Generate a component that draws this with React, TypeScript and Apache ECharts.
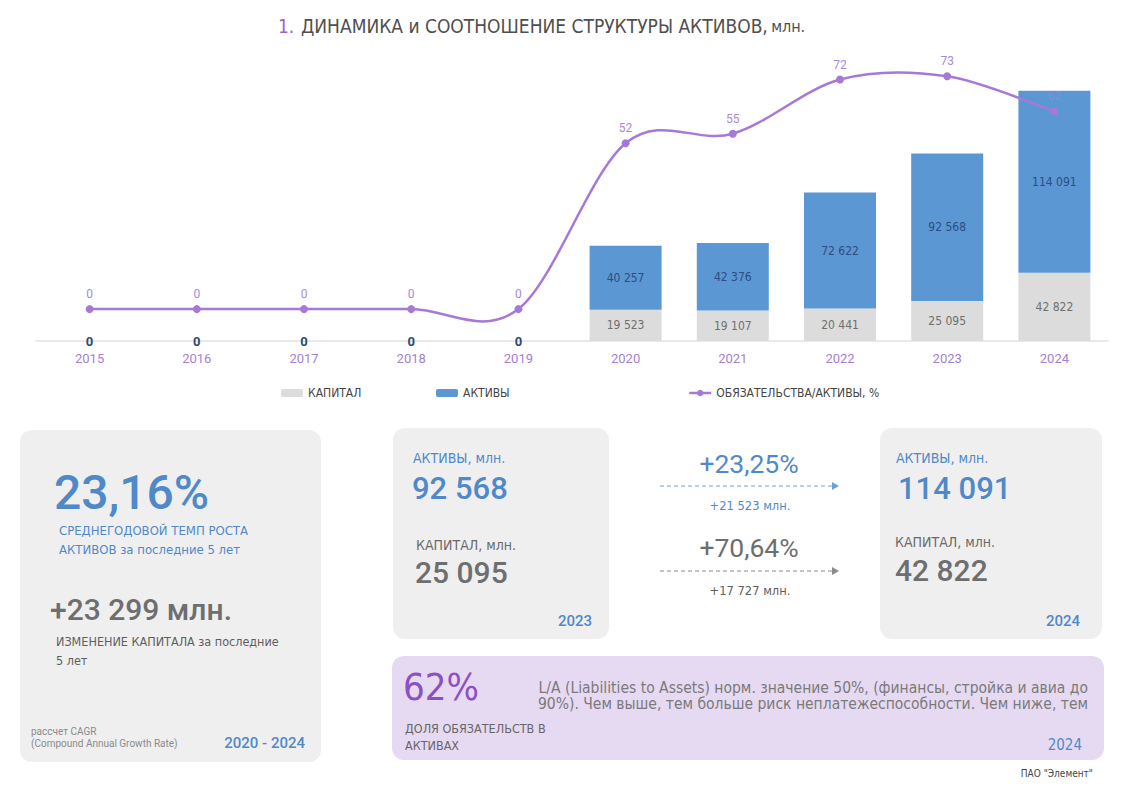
import React, { useEffect, useRef } from "react";
import * as echarts from "echarts";

// Chart data
const YEARS = ["2015", "2016", "2017", "2018", "2019", "2020", "2021", "2022", "2023", "2024"];
const CAPITAL = [0, 0, 0, 0, 0, 19523, 19107, 20441, 25095, 42822];
const ASSETS = [0, 0, 0, 0, 0, 40257, 42376, 72622, 92568, 114091];
const LIAB_TO_ASSETS = [0, 0, 0, 0, 0, 52, 55, 72, 73, 62];

// Summary figures
const CAGR_TEXT = "23,16%";
const CAPITAL_CHANGE_TEXT = "+23 299 млн.";
const PREV_YEAR = "2023";
const CUR_YEAR = "2024";
const ASSETS_GROWTH = ["+23,25%", "+21 523 млн."];
const CAPITAL_GROWTH = ["+70,64%", "+17 727 млн."];
const LIAB_SHARE = "62%";

const NARROW = "'Liberation Sans Narrow', 'DejaVu Sans Condensed', 'Roboto Condensed', Roboto, sans-serif";
const SANS = "Roboto, 'Liberation Sans', Arial, sans-serif";

const BLUE = "#5b97d3";
const GREY_BAR = "#dcdcdc";
const PURPLE = "#a678d8";
const TEXT_BLUE = "#4f89c9";
const TEXT_GREY = "#6e6e6e";
const RATIO_NAME = "ОБЯЗАТЕЛЬСТВА/АКТИВЫ, %";

const fmt = (v: number) => String(v).replace(/\B(?=(\d{3})+(?!\d))/g, " ");

function txt(
  x: number,
  y: number,
  text: string,
  size: number,
  fill: string,
  extra: { family?: string; weight?: string | number; align?: string } = {}
) {
  const align = extra.align || "left";
  return {
    type: "text",
    x,
    y,
    silent: true,
    style: {
      text,
      fill,
      fontSize: size,
      fontFamily: extra.family || NARROW,
      fontWeight: extra.weight || "normal",
      textAlign: align,
      align,
      textVerticalAlign: "middle",
      verticalAlign: "middle",
    },
  };
}

function box(x: number, y: number, w: number, h: number, fill: string) {
  return {
    type: "rect",
    silent: true,
    shape: { x, y, width: w, height: h, r: 12 },
    style: { fill },
    z: 0,
  };
}

function arrow(x1: number, x2: number, y: number, color: string) {
  return [
    {
      type: "line",
      silent: true,
      shape: { x1, y1: y, x2: x2 - 6, y2: y },
      style: { stroke: color, lineWidth: 1.2, lineDash: [4, 3] },
    },
    {
      type: "polygon",
      silent: true,
      shape: { points: [[x2 - 7, y - 4], [x2, y], [x2 - 7, y + 4]] },
      style: { fill: color },
    },
  ];
}

// Catmull-Rom style smoothing: each segment i-1 -> i is a cubic Bezier
function renderSmoothSegment(params: any, api: any) {
  const i = params.dataIndex;
  if (i === 0) return null;
  const n = LIAB_TO_ASSETS.length;
  const pt = (k: number) => {
    const j = Math.max(0, Math.min(n - 1, k));
    return api.coord([j, LIAB_TO_ASSETS[j]]);
  };
  const p0 = pt(i - 2);
  const p1 = pt(i - 1);
  const p2 = pt(i);
  const p3 = pt(i + 1);
  return {
    type: "bezierCurve",
    shape: {
      x1: p1[0],
      y1: p1[1],
      x2: p2[0],
      y2: p2[1],
      cpx1: p1[0] + (p2[0] - p0[0]) / 6,
      cpy1: p1[1] + (p2[1] - p0[1]) / 6,
      cpx2: p2[0] - (p3[0] - p1[0]) / 6,
      cpy2: p2[1] - (p3[1] - p1[1]) / 6,
    },
    style: { stroke: PURPLE, lineWidth: 2.5, fill: "none" },
  };
}

export default function App() {
  const ref = useRef<HTMLDivElement>(null);

  useEffect(() => {
    document.body.style.margin = "0";
    if (!ref.current) return;
    const chart = echarts.init(ref.current, null, { renderer: "svg" });

    const capitalData = CAPITAL.map((v) => ({
      value: v,
      label: { show: v !== 0 },
    }));
    const assetsData = ASSETS.map((v) => ({
      value: v,
      label: v === 0 ? { fontWeight: "bold", fontFamily: SANS, fontSize: 13, color: "#2b4a78" } : {},
    }));
    const ratioData = LIAB_TO_ASSETS.map((v, i) => ({
      value: v,
      label: i === LIAB_TO_ASSETS.length - 1 ? { color: "rgba(170,140,220,0.45)" } : {},
    }));

    const graphic: any[] = [
      // title
      {
        type: "text",
        x: 278,
        y: 26,
        silent: true,
        style: {
          text: "{n|1.}  {t|ДИНАМИКА и СООТНОШЕНИЕ СТРУКТУРЫ АКТИВОВ,} {s|млн.}",
          textVerticalAlign: "middle",
          verticalAlign: "middle",
          rich: {
            n: { fontSize: 19, fontFamily: NARROW, fill: "#9a63c9", color: "#9a63c9" },
            t: { fontSize: 19, fontFamily: NARROW, fill: "#4f4f4f", color: "#4f4f4f", fontWeight: 500 },
            s: { fontSize: 16, fontFamily: NARROW, fill: "#4f4f4f", color: "#4f4f4f", fontWeight: 500 },
          },
        },
      },

      // CAGR box
      box(20, 430, 301, 332, "#efeff0"),
      txt(54, 492, CAGR_TEXT, 48, TEXT_BLUE, { family: SANS, weight: 500 }),
      txt(59, 530, "СРЕДНЕГОДОВОЙ ТЕМП РОСТА", 13, TEXT_BLUE, { weight: 500 }),
      txt(59, 549, "АКТИВОВ за последние 5 лет", 13, TEXT_BLUE, { weight: 500 }),
      txt(50, 609, CAPITAL_CHANGE_TEXT, 30, TEXT_GREY, { family: SANS, weight: 500 }),
      txt(56, 641, "ИЗМЕНЕНИЕ КАПИТАЛА за последние", 12.5, "#5e5e5e", { weight: 500 }),
      txt(56, 660, "5 лет", 12.5, "#5e5e5e", { weight: 500 }),
      txt(31, 731, "рассчет CAGR", 10, "#8a8a8a", { family: SANS }),
      txt(31, 743, "(Compound Annual Growth Rate)", 10, "#8a8a8a", { family: SANS }),
      txt(305, 743, "2020 - 2024", 15, TEXT_BLUE, { family: SANS, weight: 500, align: "right" }),

      // previous year box
      box(393, 428, 216, 211, "#efeff0"),
      txt(413, 458, "АКТИВЫ, млн.", 14, TEXT_BLUE, { weight: 500 }),
      txt(412, 488, fmt(ASSETS[8]), 31, TEXT_BLUE, { family: SANS, weight: 500 }),
      txt(416, 545, "КАПИТАЛ, млн.", 14, "#6a6a6a"),
      txt(415, 572, fmt(CAPITAL[8]), 30, TEXT_GREY, { family: SANS, weight: 500 }),
      txt(592, 621, PREV_YEAR, 15, TEXT_BLUE, { family: SANS, weight: 500, align: "right" }),

      // growth arrows
      txt(749, 463, ASSETS_GROWTH[0], 26.5, TEXT_BLUE, { family: SANS, align: "center" }),
      ...arrow(660, 839, 486, "#6ea0d6"),
      txt(750, 505, ASSETS_GROWTH[1], 12.8, TEXT_BLUE, { align: "center", weight: 500 }),
      txt(749, 547, CAPITAL_GROWTH[0], 26.5, TEXT_GREY, { family: SANS, align: "center" }),
      ...arrow(660, 839, 571, "#8a8a8a"),
      txt(750, 590, CAPITAL_GROWTH[1], 12.8, "#5e5e5e", { align: "center", weight: 500 }),

      // current year box
      box(880, 428, 222, 211, "#efeff0"),
      txt(896, 458, "АКТИВЫ, млн.", 14, TEXT_BLUE, { weight: 500 }),
      txt(898, 488, fmt(ASSETS[9]), 31, TEXT_BLUE, { family: SANS, weight: 500 }),
      txt(895, 542, "КАПИТАЛ, млн.", 14, "#6a6a6a"),
      txt(895, 570, fmt(CAPITAL[9]), 30, TEXT_GREY, { family: SANS, weight: 500 }),
      txt(1080, 621, CUR_YEAR, 15, TEXT_BLUE, { family: SANS, weight: 500, align: "right" }),

      // liabilities share box
      box(392, 656, 712, 104, "#e6d9f2"),
      txt(403, 687, LIAB_SHARE, 38, "#8d4fc4", { family: NARROW }),
      txt(405, 728, "ДОЛЯ ОБЯЗАТЕЛЬСТВ В", 12.5, "#666666", { weight: 500 }),
      txt(405, 745, "АКТИВАХ", 12.5, "#666666", { weight: 500 }),
      txt(1088, 688, "L/A (Liabilities to Assets) норм. значение 50%, (финансы, стройка и авиа до", 15.5, "#7a7a7a", { align: "right" }),
      txt(1088, 704, "90%). Чем выше, тем больше риск неплатежеспособности. Чем ниже, тем", 15.5, "#7a7a7a", { align: "right" }),
      txt(1082, 745, CUR_YEAR, 15, TEXT_BLUE, { family: NARROW, align: "right" }),

      txt(1093, 773, "ПАО \"Элемент\"", 10, "#444444", { align: "right" }),
    ];

    const legendText = { fontSize: 12, color: "#444444", fontFamily: NARROW };

    chart.setOption({
      animation: false,
      backgroundColor: "#ffffff",
      grid: { left: 36, right: 17, top: 54, bottom: 471 },
      legend: [
        { data: ["КАПИТАЛ"], left: 276, top: 382, itemWidth: 22, itemHeight: 8, textStyle: legendText, selectedMode: false },
        { data: ["АКТИВЫ"], left: 431, top: 382, itemWidth: 22, itemHeight: 8, textStyle: legendText, selectedMode: false },
        {
          data: [{ name: RATIO_NAME, lineStyle: { opacity: 1, color: PURPLE, width: 2.5 } }],
          left: 683,
          top: 382,
          itemWidth: 22,
          itemHeight: 8,
          textStyle: legendText,
          selectedMode: false,
        },
      ],
      xAxis: {
        type: "category",
        data: YEARS,
        axisLine: { lineStyle: { color: "#e2e2e2", width: 1.5 } },
        axisTick: { show: false },
        axisLabel: { color: "#a57fcf", fontSize: 13, fontFamily: SANS, margin: 11 },
      },
      yAxis: [
        { type: "value", min: 0, max: 180000, show: false },
        { type: "value", min: -10, max: 80, show: false },
      ],
      series: [
        {
          name: "КАПИТАЛ",
          type: "bar",
          stack: "total",
          barWidth: 72,
          data: capitalData,
          itemStyle: { color: GREY_BAR },
          label: {
            show: true,
            position: "inside",
            color: "#6f6f6f",
            fontSize: 12,
            fontFamily: NARROW,
            formatter: (p: any) => fmt(p.value),
          },
          z: 2,
        },
        {
          name: "АКТИВЫ",
          type: "bar",
          stack: "total",
          barWidth: 72,
          data: assetsData,
          itemStyle: { color: BLUE },
          label: {
            show: true,
            position: "inside",
            color: "#2e4d80",
            fontSize: 12,
            fontFamily: NARROW,
            formatter: (p: any) => fmt(p.value),
          },
          z: 2,
        },
        {
          // smoothed ratio curve
          type: "custom",
          yAxisIndex: 1,
          data: LIAB_TO_ASSETS.map((v, i) => [i, v]),
          renderItem: renderSmoothSegment,
          silent: true,
          z: 3,
        },
        {
          name: RATIO_NAME,
          type: "line",
          yAxisIndex: 1,
          data: ratioData,
          symbol: "circle",
          symbolSize: 8,
          lineStyle: { color: PURPLE, width: 2.5, opacity: 0 },
          itemStyle: { color: PURPLE },
          label: {
            show: true,
            position: "top",
            distance: 5,
            color: "#a78bd6",
            fontSize: 12,
            fontFamily: SANS,
          },
          z: 4,
        },
      ],
      graphic,
    });

    return () => chart.dispose();
  }, []);

  return <div ref={ref} style={{ width: 1125, height: 812 }} />;
}
